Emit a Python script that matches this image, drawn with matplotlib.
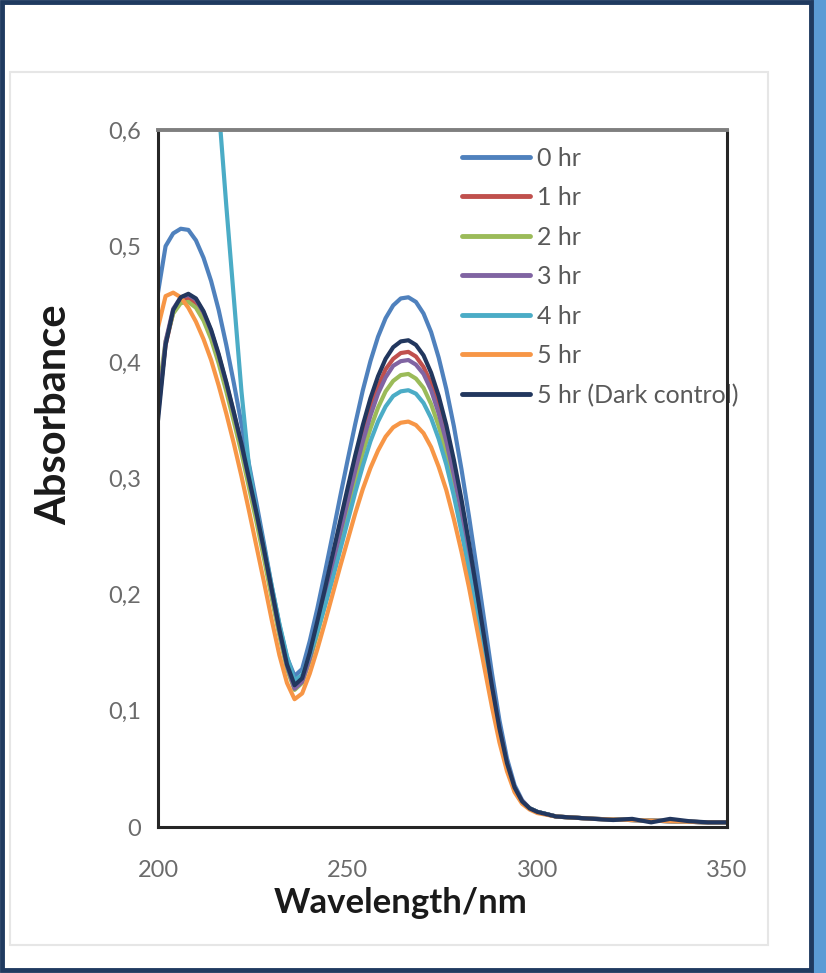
import matplotlib
matplotlib.use("Agg")
import matplotlib.pyplot as plt
from matplotlib.patches import Rectangle

# ---------------- data ----------------
wavelength = [200, 202, 204, 206, 208, 210, 212, 214, 216, 218, 220, 222, 224, 226, 228,
              230, 232, 234, 236, 238, 240, 242, 244, 246, 248, 250, 252, 254, 256, 258,
              260, 262, 264, 266, 268, 270, 272, 274, 276, 278, 280, 282, 284, 286, 288,
              290, 292, 294, 296, 298, 300, 305, 310, 315, 320, 325, 330, 335, 340, 345, 350]

tail = [0.009, 0.008, 0.007, 0.0065, 0.006, 0.0055, 0.005, 0.0045, 0.004, 0.004]
tail_dark = [0.009, 0.008, 0.007, 0.006, 0.007, 0.004, 0.007, 0.005, 0.004, 0.004]

abs_0hr = [0.46, 0.50, 0.511, 0.515, 0.514, 0.505, 0.49, 0.47, 0.445, 0.415, 0.382, 0.347, 0.312,
           0.278, 0.243, 0.207, 0.174, 0.146,
           0.13, 0.136, 0.16, 0.188, 0.219, 0.251, 0.284, 0.316, 0.347, 0.376, 0.401, 0.422,
           0.438, 0.449, 0.455, 0.456, 0.452, 0.442, 0.426, 0.404, 0.377, 0.345, 0.308, 0.267,
           0.223, 0.178, 0.133, 0.092, 0.059, 0.036, 0.023, 0.016, 0.013] + tail
abs_1hr = [0.36, 0.415, 0.443, 0.453, 0.455, 0.451, 0.44, 0.424, 0.403, 0.379, 0.353, 0.326, 0.296,
           0.266, 0.234, 0.2, 0.167, 0.138,
           0.12, 0.126, 0.147, 0.173, 0.2, 0.229, 0.257, 0.285, 0.312, 0.338, 0.36, 0.379,
           0.394, 0.403, 0.408, 0.409, 0.405, 0.396, 0.382, 0.362, 0.338, 0.308, 0.275, 0.238,
           0.199, 0.159, 0.119, 0.083, 0.054, 0.033, 0.022, 0.016, 0.013] + tail
abs_2hr = [0.37, 0.418, 0.442, 0.451, 0.452, 0.447, 0.436, 0.42, 0.399, 0.375, 0.349, 0.322, 0.292,
           0.262, 0.23, 0.197, 0.165, 0.136,
           0.118, 0.124, 0.143, 0.166, 0.191, 0.218, 0.245, 0.272, 0.298, 0.322, 0.343, 0.361,
           0.375, 0.384, 0.389, 0.39, 0.386, 0.378, 0.364, 0.345, 0.322, 0.294, 0.262, 0.227,
           0.19, 0.152, 0.114, 0.08, 0.052, 0.032, 0.021, 0.016, 0.013] + tail
abs_3hr = [0.355, 0.418, 0.446, 0.456, 0.458, 0.454, 0.443, 0.427, 0.406, 0.382, 0.356, 0.329, 0.299,
           0.269, 0.237, 0.203, 0.169, 0.139,
           0.119, 0.125, 0.145, 0.17, 0.197, 0.225, 0.253, 0.28, 0.307, 0.332, 0.354, 0.373,
           0.387, 0.397, 0.401, 0.402, 0.398, 0.39, 0.376, 0.356, 0.332, 0.303, 0.271, 0.234,
           0.196, 0.157, 0.117, 0.082, 0.053, 0.033, 0.022, 0.016, 0.013] + tail
abs_4hr = [1.40, 1.25, 1.12, 1.02, 0.94, 0.86, 0.78, 0.70, 0.62, 0.535, 0.455, 0.375, 0.31,
           0.272, 0.24, 0.207, 0.175, 0.147,
           0.126, 0.131, 0.148, 0.168, 0.19, 0.213, 0.238, 0.263, 0.288, 0.311, 0.332, 0.349,
           0.362, 0.371, 0.375, 0.376, 0.373, 0.365, 0.352, 0.334, 0.312, 0.285, 0.254, 0.22,
           0.184, 0.148, 0.111, 0.078, 0.051, 0.032, 0.021, 0.016, 0.013] + tail
abs_5hr = [0.43, 0.457, 0.46, 0.456, 0.447, 0.435, 0.42, 0.402, 0.38, 0.356, 0.33, 0.302, 0.272,
           0.241, 0.21, 0.178, 0.148, 0.124,
           0.11, 0.115, 0.132, 0.153, 0.176, 0.2, 0.224, 0.247, 0.27, 0.291, 0.309, 0.324,
           0.336, 0.344, 0.348, 0.349, 0.346, 0.339, 0.327, 0.31, 0.29, 0.265, 0.237, 0.206,
           0.172, 0.138, 0.104, 0.073, 0.048, 0.03, 0.02, 0.015, 0.012] + tail
abs_dark = [0.35, 0.415, 0.445, 0.456, 0.459, 0.455, 0.444, 0.428, 0.407, 0.383, 0.357, 0.33, 0.30,
            0.27, 0.238, 0.204, 0.17, 0.14,
            0.122, 0.128, 0.15, 0.177, 0.205, 0.234, 0.263, 0.292, 0.32, 0.346, 0.369, 0.388,
            0.403, 0.413, 0.418, 0.419, 0.415, 0.406, 0.391, 0.371, 0.346, 0.316, 0.282, 0.244,
            0.204, 0.163, 0.122, 0.085, 0.055, 0.034, 0.022, 0.016, 0.013] + tail_dark

series_labels = ["0 hr", "1 hr", "2 hr", "3 hr", "4 hr", "5 hr", "5 hr (Dark control)"]
series_values = [abs_0hr, abs_1hr, abs_2hr, abs_3hr, abs_4hr, abs_5hr, abs_dark]
series_colors = ["#4F81BD", "#C0504D", "#9BBB59", "#8064A2", "#4BACC6", "#F79646", "#22375E"]

x_ticks = [200, 250, 300, 350]
y_ticks = [0, 0.1, 0.2, 0.3, 0.4, 0.5, 0.6]
y_tick_labels = ["0", "0,1", "0,2", "0,3", "0,4", "0,5", "0,6"]

# ---------------- figure ----------------
W_PX, H_PX = 826, 973
fig = plt.figure(figsize=(W_PX / 100, H_PX / 100), dpi=100)
fig.patch.set_facecolor("white")

def fx(px):
    return px / W_PX

def fy(py):
    return 1 - py / H_PX

FONT = ["Lato", "DejaVu Sans"]

# axes placement (pixels): left 158, right 727, top 130, bottom 827
ax = fig.add_axes([fx(158), fy(827), fx(727) - fx(158), fy(130) - fy(827)])

for lab, vals, col in zip(series_labels, series_values, series_colors):
    ax.plot(wavelength, vals, color=col, lw=3.0, label=lab,
            solid_capstyle="round", solid_joinstyle="round")

ax.set_xlim(200, 350)
ax.set_ylim(0, 0.6)
ax.set_xticks(x_ticks)
ax.set_xticklabels([str(t) for t in x_ticks])
ax.set_yticks(y_ticks)
ax.set_yticklabels(y_tick_labels)
ax.tick_params(axis="both", length=0, labelsize=17, labelcolor="#6b6b6b")
ax.tick_params(axis="x", pad=24)
ax.tick_params(axis="y", pad=12)
for lbl in ax.get_xticklabels() + ax.get_yticklabels():
    lbl.set_family(FONT)

for side in ["left", "bottom", "right"]:
    ax.spines[side].set_color("#262626")
    ax.spines[side].set_linewidth(2.2)
ax.spines["top"].set_color("#7F7F7F")
ax.spines["top"].set_linewidth(2.8)

leg = ax.legend(loc="upper left", bbox_to_anchor=(0.534, 0.976), frameon=False,
                prop={"family": FONT, "size": 18}, handlelength=2.72, handletextpad=0.28,
                labelspacing=0.66, borderpad=0, borderaxespad=0)
for t in leg.get_texts():
    t.set_color("#595959")
for h in leg.get_lines():
    h.set_linewidth(3.5)
leg.set_zorder(1)

fig.text(fx(401), fy(903), "Wavelength/nm", ha="center", va="center",
         fontsize=25, fontweight="bold", family=FONT, color="#1a1a1a")
fig.text(fx(54), fy(415), "Absorbance", ha="center", va="center", rotation=90,
         fontsize=30, fontweight="bold", family=FONT, color="#1a1a1a")

# chart-area faint frame
fig.patches.append(Rectangle((fx(10), fy(945)), fx(768) - fx(10), fy(72) - fy(945),
                             transform=fig.transFigure, fill=False, ec="#E6E6E6", lw=1.5))
# outer blue shadow strip on right
fig.patches.append(Rectangle((fx(811), 0), 1 - fx(811), 1, transform=fig.transFigure,
                             fc="#5B9BD5", ec="none"))
# outer dark frame
fig.patches.append(Rectangle((fx(2), fy(970)), fx(811) - fx(2), fy(2) - fy(970),
                             transform=fig.transFigure, fill=False, ec="#1F3A60", lw=3.5))

fig.savefig("out.png", dpi=100, facecolor="white")
